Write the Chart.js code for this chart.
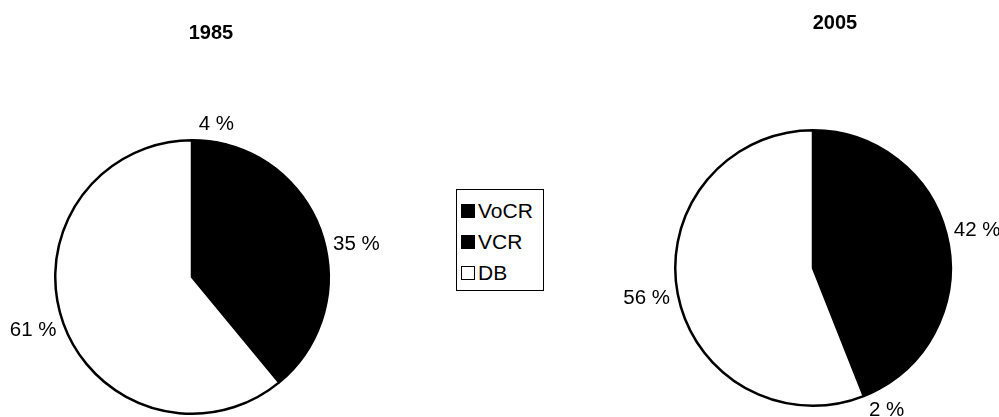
<!DOCTYPE html>
<html>
<head>
<meta charset="utf-8">
<script src="https://cdn.jsdelivr.net/npm/chart.js@4.4.1/dist/chart.umd.min.js"></script>
<style>
  body { margin: 0; width: 999px; height: 417px; background: #fff; position: relative; overflow: hidden;
         font-family: Arial, "Liberation Sans", sans-serif; color: #000; }
  canvas { position: absolute; top: 0; }
  #pie1985 { left: 0; }
  #pie2005 { left: 600px; }
  .year { position: absolute; font-weight: bold; font-size: 20px; transform: translate(-50%, -50%); }
  #legend { position: absolute; left: 456px; top: 189px; width: 88px; height: 102px; border: 1px solid #000;
            box-sizing: border-box; padding-top: 5px; }
  #legend .item { height: 31px; line-height: 24px; font-size: 21px; display: flex; align-items: center; }
  #legend .sw { width: 14px; height: 14px; border: 1.5px solid #000; margin: 0 3px 0 4px; box-sizing: border-box; }
</style>
</head>
<body>
<canvas id="pie1985" width="420" height="417"></canvas>
<canvas id="pie2005" width="399" height="417"></canvas>
<div class="year" style="left:211px; top:32px;">1985</div>
<div class="year" style="left:835px; top:22px;">2005</div>
<div id="legend"></div>

<script>
// ── data ──
const categories = ['VoCR', 'VCR', 'DB'];
const years = ['1985', '2005'];
const shares1985 = [4, 35, 61];
const shares2005 = [42, 2, 56];
const sliceColors = ['#000000', '#000000', '#ffffff'];

// labels outside the pie, pushed out along the slice's middle angle
const outsideLabels = {
  id: 'outsideLabels',
  afterDatasetsDraw(chart) {
    const { ctx } = chart;
    const meta = chart.getDatasetMeta(0);
    const values = chart.data.datasets[0].data;
    ctx.save();
    ctx.font = '20.5px Arial, "Liberation Sans", sans-serif';
    ctx.fillStyle = '#000';
    ctx.textAlign = 'center';
    ctx.textBaseline = 'middle';
    meta.data.forEach((arc, i) => {
      const { x, y, startAngle, endAngle, outerRadius } =
        arc.getProps(['x', 'y', 'startAngle', 'endAngle', 'outerRadius'], true);
      const mid = (startAngle + endAngle) / 2;
      const text = `${values[i]} %`;
      const w = ctx.measureText(text).width;
      const r = outerRadius + 8;
      const c = Math.cos(mid);
      // small slices near top/bottom get nudged sideways a bit more, like Excel does
      const cx = x + c * r + Math.sign(c) * Math.sqrt(Math.abs(c)) * w / 2;
      const cy = y + Math.sin(mid) * (r + 10);
      ctx.fillText(text, cx, cy + 1);
    });
    ctx.restore();
  },
};

function makePie(canvasId, values, padding) {
  return new Chart(document.getElementById(canvasId), {
    type: 'pie',
    data: {
      labels: categories,
      datasets: [{
        data: values,
        backgroundColor: sliceColors,
        borderColor: '#000',
        borderWidth: 2.5,
      }],
    },
    plugins: [outsideLabels],
    options: {
      responsive: false,
      animation: false,
      events: [],
      layout: { padding },
      plugins: {
        legend: { display: false },
        tooltip: { enabled: false },
      },
    },
  });
}

makePie('pie1985', shares1985, { left: 54, right: 90, top: 139, bottom: 2 });
makePie('pie2005', shares2005, { left: 74, right: 47, top: 129, bottom: 10 });

// legend
const legend = document.getElementById('legend');
categories.forEach((name, i) => {
  const item = document.createElement('div');
  item.className = 'item';
  const sw = document.createElement('span');
  sw.className = 'sw';
  sw.style.background = sliceColors[i];
  item.appendChild(sw);
  item.appendChild(document.createTextNode(name));
  legend.appendChild(item);
});
</script>
</body>
</html>
